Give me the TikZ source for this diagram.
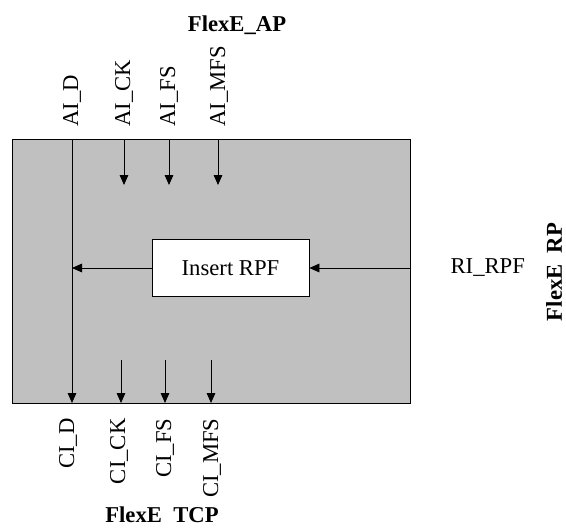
\documentclass[tikz,border=0pt]{standalone}
\usepackage{fontspec}
\setmainfont{Liberation Serif}
\usetikzlibrary{arrows.meta}
\definecolor{blkgray}{HTML}{C0C0C0}
\tikzset{
  sig/.style={line width=0.6pt, -{Triangle[length=7.5pt,width=6.5pt]}},
  vlabel/.style={rotate=90, inner sep=1pt, font=\fontsize{17}{20}\selectfont},
  hlabel/.style={inner sep=1pt, font=\fontsize{17}{20}\selectfont},
  title/.style={inner sep=1pt, font=\fontsize{17}{20}\selectfont\bfseries},
  procbox/.style={draw, line width=0.6pt, fill=white, minimum width=117.75pt,
    minimum height=42.75pt, font=\fontsize{17}{20}\selectfont}
}
\newcommand{\sigin}[3]{\coordinate (#3-a) at (#1,139); \coordinate (#3-b) at (#1,#2); \draw[sig] (#3-a) -- (#3-b);}
\newcommand{\sigout}[3]{\coordinate (#3-a) at (#1,#2); \coordinate (#3-b) at (#1,403); \draw[sig] (#3-a) -- (#3-b);}

\begin{document}
\begin{tikzpicture}[x=0.75pt, y=-0.75pt]
        \useasboundingbox (0,0) rectangle (566,528);

        % block
        \draw[line width=0.6pt, fill=blkgray] (12,139) rectangle (410,403);
        \node[procbox] (ins) at (230.5,268) {Insert RPF};

        % data path
        \coordinate (aid) at (72,139);
        \coordinate (cid) at (72,403);
        \coordinate (join) at (72,268);
        \coordinate (ri) at (410,268);
        \draw[sig] (aid) -- (cid);
        \draw[sig] (ri) -- (ins.east);
        \draw[sig] (ins.west) -- (join);

        % AI side
        \sigin{124}{185}{aick}
        \sigin{169}{185}{aifs}
        \sigin{218}{185}{aimfs}

        % CI side
        \sigout{121}{360}{cick}
        \sigout{165}{360}{cifs}
        \sigout{211}{360}{cimfs}

        % labels
        \node[vlabel, anchor=west] (l-aid) at (72,128) {AI\_D};
        \node[vlabel, anchor=west] (l-aick) at (124,128) {AI\_CK};
        \node[vlabel, anchor=west] (l-aifs) at (169,128) {AI\_FS};
        \node[vlabel, anchor=west] (l-aimfs) at (219,128) {AI\_MFS};

        \node[vlabel, anchor=east] (l-cid) at (68,417) {CI\_D};
        \node[vlabel, anchor=east] (l-cick) at (119,417) {CI\_CK};
        \node[vlabel, anchor=east] (l-cifs) at (165,417) {CI\_FS};
        \node[vlabel, anchor=east] (l-cimfs) at (212,417) {CI\_MFS};

        \node[hlabel, anchor=west] (l-ri) at (449,268) {RI\_RPF};

        \node[title] (ap) at (237,25) {FlexE\_AP};
        \node[title] (tcp) at (162,515) {FlexE\enspace TCP};
        \node[title, rotate=90] (rp) at (554,272) {FlexE\enspace RP};
\end{tikzpicture}
\end{document}
